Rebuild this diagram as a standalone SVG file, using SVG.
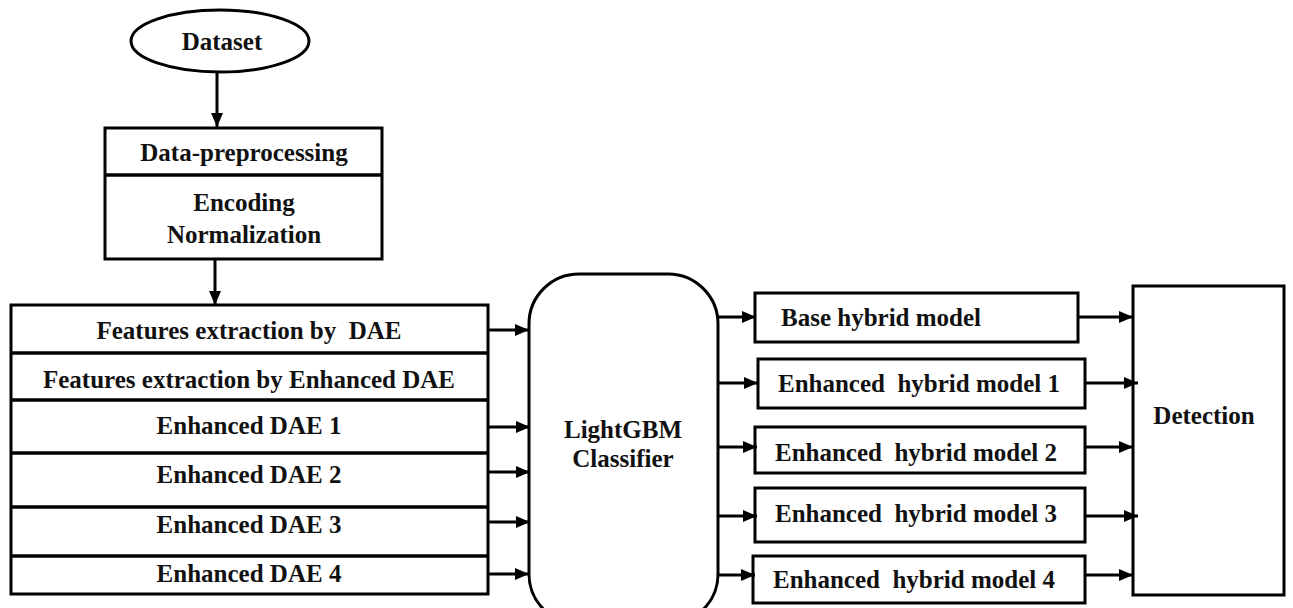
<svg xmlns="http://www.w3.org/2000/svg" width="1293" height="608" viewBox="0 0 1293 608">
  <defs>
    <marker id="arrow" markerWidth="14" markerHeight="12" refX="14" refY="6" orient="auto" markerUnits="userSpaceOnUse">
      <path d="M0,0 L14,6 L0,12 Z" fill="#000"/>
    </marker>
    <style>
      .box { fill: #fff; stroke: #000; stroke-width: 3; }
      .div { stroke: #000; stroke-width: 3.5; }
      .lbl { font-family: "Liberation Serif", "Times New Roman", serif; font-weight: bold; font-size: 25px; fill: #111; text-anchor: middle; }
      .conn { stroke: #000; stroke-width: 3; fill: none; marker-end: url(#arrow); }
    </style>
  </defs>
  <rect width="1293" height="608" fill="#fff"/>

  <g id="dataset">
    <ellipse class="box" cx="220" cy="41" rx="89" ry="31"/>
    <text class="lbl" x="222" y="50">Dataset</text>
  </g>

  <g id="preprocessing">
    <rect class="box" x="105" y="128" width="277" height="131"/>
    <line class="div" x1="105" y1="175" x2="382" y2="175"/>
    <text class="lbl" x="244" y="161">Data-preprocessing</text>
    <text class="lbl" x="244" y="211">Encoding</text>
    <text class="lbl" x="244" y="243">Normalization</text>
  </g>

  <g id="feature-extraction">
    <rect class="box" x="11" y="305" width="477" height="289"/>
    <line class="div" x1="11" y1="353" x2="488" y2="353"/>
    <line class="div" x1="11" y1="400" x2="488" y2="400"/>
    <line class="div" x1="11" y1="453" x2="488" y2="453"/>
    <line class="div" x1="11" y1="507" x2="488" y2="507"/>
    <line class="div" x1="11" y1="556" x2="488" y2="556"/>
    <text class="lbl" x="249" y="339" xml:space="preserve">Features extraction by  DAE</text>
    <text class="lbl" x="249" y="388">Features extraction by Enhanced DAE</text>
    <text class="lbl" x="249" y="434">Enhanced DAE 1</text>
    <text class="lbl" x="249" y="483">Enhanced DAE 2</text>
    <text class="lbl" x="249" y="533">Enhanced DAE 3</text>
    <text class="lbl" x="249" y="582">Enhanced DAE 4</text>
  </g>

  <g id="lightgbm">
    <rect class="box" x="529" y="274" width="189" height="350" rx="50" ry="50"/>
    <text class="lbl" x="623" y="438">LightGBM</text>
    <text class="lbl" x="623" y="467">Classifier</text>
  </g>

  <g id="base-hybrid">
    <rect class="box" x="755" y="293" width="323" height="49"/>
    <text class="lbl" x="881" y="326">Base hybrid model</text>
  </g>
  <g id="enhanced-hybrid-1">
    <rect class="box" x="758" y="359" width="327" height="49"/>
    <text class="lbl" x="919" y="392" xml:space="preserve">Enhanced  hybrid model 1</text>
  </g>
  <g id="enhanced-hybrid-2">
    <rect class="box" x="755" y="427" width="330" height="46"/>
    <text class="lbl" x="916" y="461" xml:space="preserve">Enhanced  hybrid model 2</text>
  </g>
  <g id="enhanced-hybrid-3">
    <rect class="box" x="755" y="488" width="330" height="54"/>
    <text class="lbl" x="916" y="522" xml:space="preserve">Enhanced  hybrid model 3</text>
  </g>
  <g id="enhanced-hybrid-4">
    <rect class="box" x="753" y="556" width="332" height="47"/>
    <text class="lbl" x="914" y="588" xml:space="preserve">Enhanced  hybrid model 4</text>
  </g>

  <g id="detection">
    <rect class="box" x="1133" y="286" width="151" height="309"/>
    <text class="lbl" x="1204" y="424">Detection</text>
  </g>

  <g id="connectors">
    <line class="conn" x1="217" y1="72" x2="217" y2="127"/>
    <line class="conn" x1="215" y1="259" x2="215" y2="305"/>
    <line class="conn" x1="488" y1="330" x2="529" y2="330"/>
    <line class="conn" x1="488" y1="427" x2="530" y2="427"/>
    <line class="conn" x1="488" y1="472" x2="530" y2="472"/>
    <line class="conn" x1="488" y1="522" x2="530" y2="522"/>
    <line class="conn" x1="488" y1="574" x2="529" y2="574"/>
    <line class="conn" x1="718" y1="317" x2="756" y2="317"/>
    <line class="conn" x1="718" y1="383" x2="758" y2="383"/>
    <line class="conn" x1="718" y1="447" x2="757" y2="447"/>
    <line class="conn" x1="718" y1="516" x2="757" y2="516"/>
    <line class="conn" x1="718" y1="575" x2="755" y2="575"/>
    <line class="conn" x1="1078" y1="317" x2="1133" y2="317"/>
    <line class="conn" x1="1085" y1="383" x2="1138" y2="383"/>
    <line class="conn" x1="1085" y1="447" x2="1133" y2="447"/>
    <line class="conn" x1="1085" y1="516" x2="1138" y2="516"/>
    <line class="conn" x1="1085" y1="575" x2="1133" y2="575"/>
  </g>
</svg>
